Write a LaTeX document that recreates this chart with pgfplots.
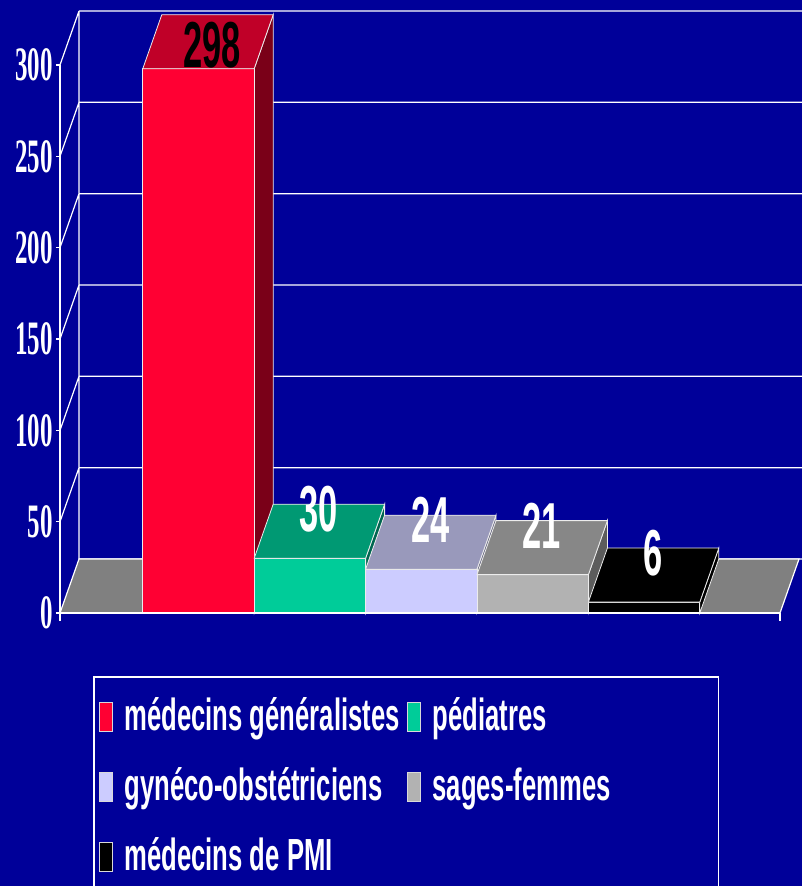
\documentclass[border=0pt]{standalone}
\usepackage{pgfplots}
\pgfplotsset{compat=1.18}
\usepackage{fontspec}
\setmainfont{Liberation Sans}
\newfontfamily\tickfam{Liberation Serif}[FakeStretch=0.52]
\newfontfamily\numfam{Liberation Sans}[FakeStretch=0.53]
\newfontfamily\legfam{Liberation Sans}[FakeStretch=0.57]
\definecolor{bg}{HTML}{000099}
\definecolor{redF}{HTML}{FF0033}
\definecolor{redT}{HTML}{C00028}
\definecolor{redS}{HTML}{7A0018}
\definecolor{tealF}{HTML}{00CC99}
\definecolor{tealT}{HTML}{009973}
\definecolor{tealS}{HTML}{006650}
\definecolor{lavF}{HTML}{CCCCFF}
\definecolor{lavT}{HTML}{9999BB}
\definecolor{lavS}{HTML}{666680}
\definecolor{greyF}{HTML}{B2B2B2}
\definecolor{greyT}{HTML}{878787}
\definecolor{greyS}{HTML}{5C5C5C}
\definecolor{floorc}{HTML}{808080}
\newcommand\legsq[1]{\addlegendimage{legend image code/.code={\filldraw[fill=#1, draw=white!85!black, line width=0.8pt] (0pt,-12pt) rectangle (13pt,17pt);}}}
\begin{document}
\begin{tikzpicture}
\useasboundingbox (-60pt,-273pt) rectangle (742pt,613pt);
\fill[bg] (-60pt,-273pt) rectangle (742pt,613pt);
\clip (-60pt,-273pt) rectangle (742pt,613pt);
\begin{axis}[
  at={(0pt,0pt)}, anchor=south west,
  scale only axis, width=720pt, height=548pt,
  xmin=-1.2433, xmax=5.2199, ymin=0, ymax=300,
  clip=false,
  axis x line=none, axis y line=left,
  y axis line style={-, white, line width=1.2pt},
  xtick=\empty, ytick={0,50,100,150,200,250,300},
  tick align=outside, major tick length=4pt,
  y tick style={white, line width=1.2pt},
  /pgf/number format/assume math mode=true,
  yticklabel style={font=\tickfam\bfseries\fontsize{48}{50}\selectfont, text=white, inner xsep=3pt},
  legend columns=2, legend cell align=left,
  legend style={at={(axis description cs:0.04583,-0.115)}, anchor=north west,
    draw=white, line width=1.5pt, fill=bg, text=white,
    font=\legfam\bfseries\fontsize{45}{50}\selectfont,
    inner xsep=5pt, inner ysep=21pt, row sep=27pt,
    nodes={inner sep=0pt, text height=33pt, text depth=10pt},
    /tikz/every odd column/.append style={column sep=12pt},
    /tikz/every even column/.append style={column sep=7pt}},
]
% walls and grid
\addplot[forget plot, white, line width=1.2pt, unbounded coords=jump] coordinates {
 (-1.0727,29.56) (5.5,29.56) (0,nan)
 (-1.0727,79.56) (5.5,79.56) (0,nan)
 (-1.0727,129.56) (5.5,129.56) (0,nan)
 (-1.0727,179.56) (5.5,179.56) (0,nan)
 (-1.0727,229.56) (5.5,229.56) (0,nan)
 (-1.0727,279.56) (5.5,279.56) (0,nan)
 (-1.0727,329.56) (5.5,329.56) (0,nan)
 (-1.2433,50) (-1.0727,79.56) (0,nan)
 (-1.2433,100) (-1.0727,129.56) (0,nan)
 (-1.2433,150) (-1.0727,179.56) (0,nan)
 (-1.2433,200) (-1.0727,229.56) (0,nan)
 (-1.2433,250) (-1.0727,279.56) (0,nan)
 (-1.2433,300) (-1.0727,329.56) (0,nan)
 (-1.0727,29.56) (-1.0727,329.56)
};
% floor
\addplot[forget plot, fill=floorc, draw=white, line width=1.2pt] coordinates {(-1.2433,0) (5.2199,0) (5.3905,29.56) (-1.0727,29.56)} -- cycle;
% bar 0: 298
\addplot[forget plot, fill=redS, draw=white!85!gray, line width=0.8pt] coordinates {(0.5,0) (0.6706,29.56) (0.6706,327.56) (0.5,298)} -- cycle;
\addplot[forget plot, fill=redF, draw=white!85!gray, line width=0.8pt] coordinates {(-0.5,0) (0.5,0) (0.5,298) (-0.5,298)} -- cycle;
\addplot[forget plot, fill=redT, draw=white!85!gray, line width=0.8pt] coordinates {(-0.5,298) (0.5,298) (0.6706,327.56) (-0.3294,327.56)} -- cycle;
% bar 1: 30
\addplot[forget plot, fill=tealS, draw=white!85!gray, line width=0.8pt] coordinates {(1.5,0) (1.6706,29.56) (1.6706,59.56) (1.5,30)} -- cycle;
\addplot[forget plot, fill=tealF, draw=white!85!gray, line width=0.8pt] coordinates {(0.5,0) (1.5,0) (1.5,30) (0.5,30)} -- cycle;
\addplot[forget plot, fill=tealT, draw=white!85!gray, line width=0.8pt] coordinates {(0.5,30) (1.5,30) (1.6706,59.56) (0.6706,59.56)} -- cycle;
% bar 2: 24
\addplot[forget plot, fill=lavS, draw=white!85!gray, line width=0.8pt] coordinates {(2.5,0) (2.6706,29.56) (2.6706,53.56) (2.5,24)} -- cycle;
\addplot[forget plot, fill=lavF, draw=white!85!gray, line width=0.8pt] coordinates {(1.5,0) (2.5,0) (2.5,24) (1.5,24)} -- cycle;
\addplot[forget plot, fill=lavT, draw=white!85!gray, line width=0.8pt] coordinates {(1.5,24) (2.5,24) (2.6706,53.56) (1.6706,53.56)} -- cycle;
% bar 3: 21
\addplot[forget plot, fill=greyS, draw=white!85!gray, line width=0.8pt] coordinates {(3.5,0) (3.6706,29.56) (3.6706,50.56) (3.5,21)} -- cycle;
\addplot[forget plot, fill=greyF, draw=white!85!gray, line width=0.8pt] coordinates {(2.5,0) (3.5,0) (3.5,21) (2.5,21)} -- cycle;
\addplot[forget plot, fill=greyT, draw=white!85!gray, line width=0.8pt] coordinates {(2.5,21) (3.5,21) (3.6706,50.56) (2.6706,50.56)} -- cycle;
% bar 4: 6
\addplot[forget plot, fill=black, draw=white!85!gray, line width=0.8pt] coordinates {(4.5,0) (4.6706,29.56) (4.6706,35.56) (4.5,6)} -- cycle;
\addplot[forget plot, fill=black, draw=white!85!gray, line width=0.8pt] coordinates {(3.5,0) (4.5,0) (4.5,6) (3.5,6)} -- cycle;
\addplot[forget plot, fill=black, draw=white!85!gray, line width=0.8pt] coordinates {(3.5,6) (4.5,6) (4.6706,35.56) (3.6706,35.56)} -- cycle;
% front axis line
\addplot[forget plot, white, line width=1.8pt, unbounded coords=jump] coordinates {(-1.2433,0) (5.2199,0) (0,nan) (-1.2433,0) (-1.2433,-4.4) (0,nan) (5.2199,0) (5.2199,-4.4)};
% value labels
\addplot[forget plot, draw=none, nodes near coords, point meta=explicit symbolic,
  every node near coord/.append style={anchor=center, xshift=13.5pt, yshift=23.6pt, text=black, font=\numfam\bfseries\fontsize{65}{70}\selectfont}]
  coordinates {(0,298) [298]};
\addplot[forget plot, draw=none, nodes near coords, point meta=explicit symbolic,
  every node near coord/.append style={anchor=center, xshift=9pt, yshift=49pt, text=white, font=\numfam\bfseries\fontsize{65}{70}\selectfont}]
  coordinates {(1,30) [30] (2,24) [24] (3,21) [21] (4,6) [6]};
% legend
\legsq{redF}\addlegendentry{médecins généralistes}
\legsq{tealF}\addlegendentry{pédiatres}
\legsq{lavF}\addlegendentry{gynéco-obstétriciens}
\legsq{greyF}\addlegendentry{sages-femmes\hspace*{103pt}}
\legsq{black}\addlegendentry{médecins de PMI}
\end{axis}
\end{tikzpicture}
\end{document}
